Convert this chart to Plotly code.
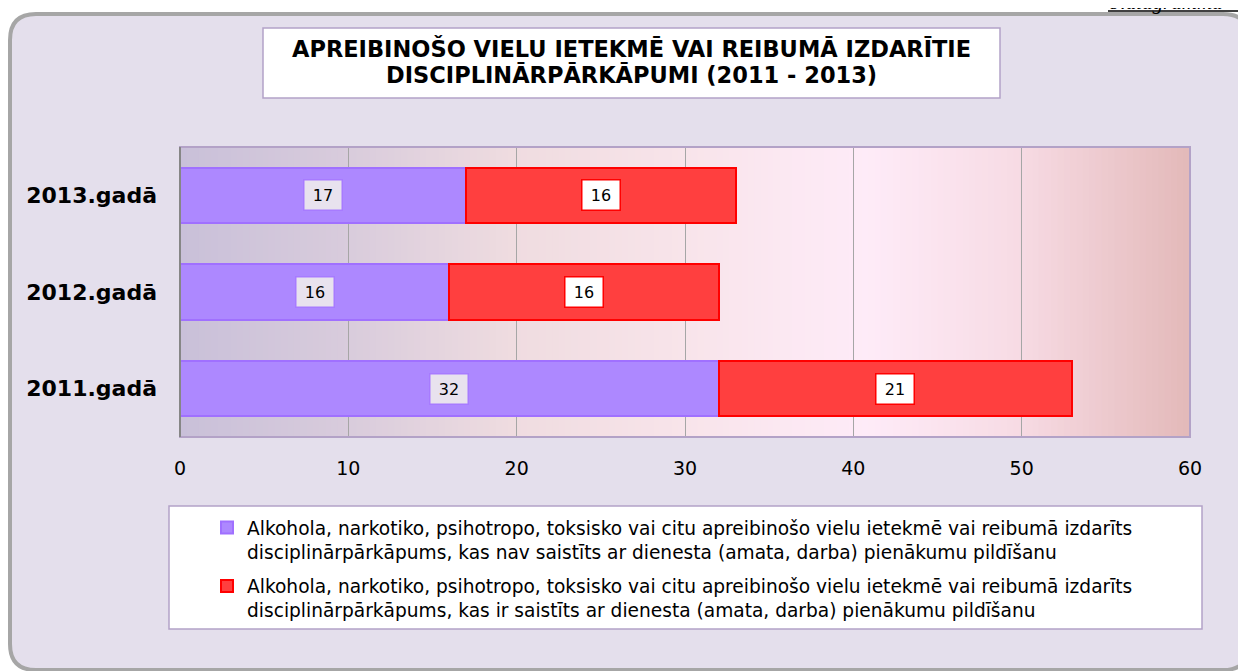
import plotly.graph_objects as go

# ---- data ----
years = ["2011.gadā", "2012.gadā", "2013.gadā"]
not_related = [32, 16, 17]
related = [21, 16, 16]
series_names = [
    "Alkohola, narkotiko, psihotropo, toksisko vai citu apreibinošo vielu ietekmē vai reibumā izdarīts<br>disciplinārpārkāpums, kas nav saistīts ar dienesta (amata, darba) pienākumu pildīšanu",
    "Alkohola, narkotiko, psihotropo, toksisko vai citu apreibinošo vielu ietekmē vai reibumā izdarīts<br>disciplinārpārkāpums, kas ir saistīts ar dienesta (amata, darba) pienākumu pildīšanu",
]
title_lines = ["APREIBINOŠO VIELU IETEKMĒ VAI REIBUMĀ IZDARĪTIE", "DISCIPLINĀRPĀRKĀPUMI (2011 - 2013)"]
x_ticks = [0, 10, 20, 30, 40, 50, 60]

FONT = "DejaVu Sans, Arial, sans-serif"
OFF = 8  # page body margin
W, H = 1246 - OFF, 671 - OFF
# plot area in page pixels
L, R, T, B = 180, 1190, 147, 437


def X(px):
    return (px - L) / (R - L)


def Y(py):
    return (B - py) / (B - T)


fig = go.Figure()
fig.add_trace(go.Bar(
    y=years, x=not_related, orientation="h", name=series_names[0],
    marker=dict(color="#AD88FF", line=dict(color="#A070FF", width=2)),
    width=0.57, legendgroup="a",
))
fig.add_trace(go.Bar(
    y=years, x=related, orientation="h", name=series_names[1],
    marker=dict(color="#FF3F3F", line=dict(color="#FF0000", width=2)),
    width=0.57, legendgroup="b",
))

shapes = []
# outer rounded frame
x0, x1, y0, y1 = X(10), X(1249), Y(14), Y(670)
rx, ry = 26 / (R - L), 26 / (B - T)
path = (f"M {x0+rx},{y0} L {x1-rx},{y0} Q {x1},{y0} {x1},{y0-ry} "
        f"L {x1},{y1+ry} Q {x1},{y1} {x1-rx},{y1} L {x0+rx},{y1} "
        f"Q {x0},{y1} {x0},{y1+ry} L {x0},{y0-ry} Q {x0},{y0} {x0+rx},{y0} Z")
shapes.append(dict(type="path", path=path, xref="paper", yref="paper", layer="below",
                   fillcolor="#E4DFEC", line=dict(color="#A6A6A6", width=4)))
# title box
shapes.append(dict(type="rect", xref="paper", yref="paper", layer="below",
                   x0=X(263), x1=X(1000), y0=Y(28), y1=Y(98),
                   fillcolor="white", line=dict(color="#B3A2C7", width=1.5)))
# legend box
shapes.append(dict(type="rect", xref="paper", yref="paper", layer="below",
                   x0=X(169), x1=X(1202), y0=Y(506), y1=Y(629),
                   fillcolor="white", line=dict(color="#B3A2C7", width=1.5)))
# underline of the caption at the top right
shapes.append(dict(type="line", xref="paper", yref="paper", layer="above",
                   x0=X(1108), x1=X(1250), y0=Y(11), y1=Y(11),
                   line=dict(color="black", width=1.5)))

# plot-area gradient
stops = [(0.0, (201, 192, 217)), (0.17, (217, 204, 220)), (0.33, (239, 220, 224)),
         (0.5, (248, 228, 234)), (0.68, (254, 235, 248)), (0.83, (247, 219, 228)),
         (1.0, (227, 185, 185))]


def col(t):
    for (ta, ca), (tb, cb) in zip(stops[:-1], stops[1:]):
        if ta <= t <= tb:
            f = (t - ta) / (tb - ta)
            c = [round(a + (b - a) * f) for a, b in zip(ca, cb)]
            return f"rgb({c[0]},{c[1]},{c[2]})"
    return "rgb(227,185,185)"


N = 160
for i in range(N):
    shapes.append(dict(type="rect", xref="paper", yref="paper", layer="below",
                       x0=i / N, x1=(i + 1) / N + 0.001, y0=0, y1=1,
                       fillcolor=col((i + 0.5) / N), line=dict(width=0)))
# plot area border
shapes.append(dict(type="rect", xref="paper", yref="paper", layer="above",
                   x0=0, x1=1, y0=0, y1=1, line=dict(color="#B3A2C7", width=2)))
shapes.append(dict(type="line", xref="paper", yref="paper", layer="above",
                   x0=0, x1=0, y0=0, y1=1, line=dict(color="#868686", width=2)))

annotations = []
for i, line in enumerate(title_lines):
    annotations.append(dict(text=f"<b>{line}</b>", xref="paper", yref="paper",
                            x=X(631), y=Y(48 + 26 * i), xanchor="center", yanchor="middle",
                            showarrow=False, font=dict(family=FONT, size=22.5, color="black")))
annotations.append(dict(text="<i>9.diagramma</i>", xref="paper", yref="paper",
                        x=X(1108), y=Y(16.5), xanchor="left", yanchor="bottom", showarrow=False,
                        font=dict(family="Liberation Serif, Times New Roman, serif", size=21, color="black")))
# data labels
for yr, a, b in zip(years, not_related, related):
    annotations.append(dict(text=str(a), x=a / 2, y=yr, xref="x", yref="y", showarrow=False,
                            font=dict(family=FONT, size=16, color="black"),
                            bgcolor="#E8E2EE", bordercolor="#A77BFF", borderwidth=1.5,
                            width=35, height=27, borderpad=1))
    annotations.append(dict(text=str(b), x=a + b / 2, y=yr, xref="x", yref="y", showarrow=False,
                            font=dict(family=FONT, size=16, color="black"),
                            bgcolor="white", bordercolor="#FF0000", borderwidth=1.5,
                            width=35, height=27, borderpad=1))

fig.update_layout(
    width=W, height=H,
    margin=dict(l=L - OFF, r=W - (R - OFF), t=T - OFF, b=H - (B - OFF), pad=0),
    paper_bgcolor="white", plot_bgcolor="rgba(0,0,0,0)",
    barmode="stack", bargap=0.43,
    shapes=shapes, annotations=annotations,
    showlegend=True,
    legend=dict(x=X(207), y=Y(509), xanchor="left", yanchor="top",
                bgcolor="rgba(0,0,0,0)", borderwidth=0, valign="top",
                traceorder="grouped", tracegroupgap=7,
                font=dict(family=FONT, size=18.6, color="black")),
    xaxis=dict(range=[0, 60], tickvals=x_ticks, showgrid=True, gridcolor="#A6A6A6", gridwidth=1,
               zeroline=False, showline=False, ticks="", ticklabelstandoff=18,
               tickfont=dict(family=FONT, size=19, color="black"), fixedrange=True),
    yaxis=dict(categoryorder="array", categoryarray=years, showgrid=False, zeroline=False,
               showline=False, ticks="", ticklabelstandoff=22,
               tickfont=dict(family=FONT, size=22, color="black"), fixedrange=True),
)
fig.update_yaxes(tickprefix="<b>", ticksuffix="</b>")

fig.write_html("out.html")
